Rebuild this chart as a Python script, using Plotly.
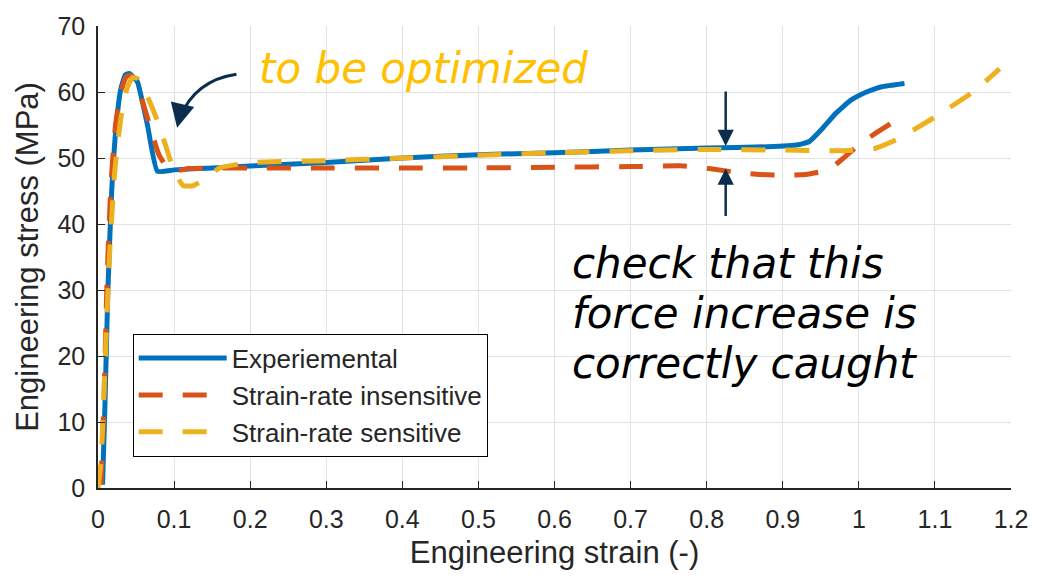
import plotly.graph_objects as go

# Engineering strain / stress curves
exp_strain = [0.006, 0.009, 0.013, 0.018, 0.024, 0.030, 0.036, 0.041, 0.046, 0.052, 0.065, 0.078,
              0.10, 0.15, 0.20, 0.30, 0.40, 0.50, 0.60, 0.70, 0.80, 0.88, 0.92, 0.935,
              0.95, 0.97, 0.99, 1.01, 1.03, 1.06]
exp_stress = [0.5, 12, 30, 45, 55, 60.5, 62.6, 62.8, 62.3, 61.5, 55, 48,
              48.2, 48.5, 48.8, 49.3, 50.0, 50.5, 50.8, 51.2, 51.5, 51.7, 52.0, 52.5,
              54.2, 56.8, 58.8, 60.0, 60.8, 61.3]

ins_strain = [0.004, 0.008, 0.012, 0.017, 0.023, 0.030, 0.037, 0.043, 0.050, 0.060, 0.080, 0.095,
              0.12, 0.20, 0.30, 0.40, 0.50, 0.60, 0.70, 0.77, 0.81, 0.84, 0.87, 0.90,
              0.93, 0.96, 0.98, 1.00, 1.02, 1.05]
ins_stress = [0.5, 14, 32, 46, 55, 60, 62.3, 62.5, 61.5, 58, 50.5, 48.0,
              48.4, 48.5, 48.5, 48.5, 48.5, 48.6, 48.7, 48.8, 48.3, 47.8, 47.5, 47.4,
              47.5, 48.2, 50.0, 52.0, 53.6, 55.8]

sen_strain = [0.0, 0.004, 0.009, 0.015, 0.022, 0.030, 0.038, 0.045, 0.052, 0.060, 0.070, 0.080,
              0.090, 0.100, 0.112, 0.125, 0.140, 0.160, 0.20, 0.30, 0.40, 0.50, 0.60, 0.70,
              0.80, 0.90, 0.98, 1.02, 1.05, 1.10, 1.15, 1.185]
sen_stress = [0.0, 4, 18, 35, 48, 56, 60.5, 62.2, 62.0, 60.5, 58.0, 55.0,
              51.5, 48.0, 45.8, 45.8, 46.8, 48.5, 49.3, 49.6, 50.0, 50.4, 50.8, 51.1,
              51.3, 51.2, 51.1, 51.4, 52.8, 56.2, 60.0, 63.5]

series_names = ["Experiemental", "Strain-rate insensitive", "Strain-rate sensitive"]

x_ticks = [0, 0.1, 0.2, 0.3, 0.4, 0.5, 0.6, 0.7, 0.8, 0.9, 1, 1.1, 1.2]
x_tick_text = ["0", "0.1", "0.2", "0.3", "0.4", "0.5", "0.6", "0.7", "0.8", "0.9", "1", "1.1", "1.2"]
y_ticks = [0, 10, 20, 30, 40, 50, 60, 70]

note_lines = ["check that this", "force increase is", "correctly caught"]
note_line_y = [34.0, 26.5, 18.9]

BLUE = "#0072BD"
ORANGE = "#D95319"
YELLOW = "#EDB120"
NAVY = "#0B2E4F"
GOLD = "#FFC000"
TXT = "#262626"
AX_FONT = "Liberation Sans, Arial, sans-serif"
NOTE_FONT = "DejaVu Sans, sans-serif"
DASH = "24px,20px"

fig = go.Figure()
fig.add_trace(go.Scatter(x=exp_strain, y=exp_stress, mode="lines", name=series_names[0],
                         line=dict(color=BLUE, width=5, shape="spline", smoothing=0.4)))
fig.add_trace(go.Scatter(x=ins_strain, y=ins_stress, mode="lines", name=series_names[1],
                         line=dict(color=ORANGE, width=5, dash=DASH, shape="spline", smoothing=0.4)))
fig.add_trace(go.Scatter(x=sen_strain, y=sen_stress, mode="lines", name=series_names[2],
                         line=dict(color=YELLOW, width=5, dash=DASH, shape="spline", smoothing=0.4)))

# curved pointer towards the first peak
fig.add_shape(type="path", xref="x", yref="y",
              path="M 0.182 62.7 Q 0.128 61.8 0.108 56.2",
              line=dict(color=NAVY, width=3))
fig.add_annotation(x=0.104, y=54.6, ax=0.108, ay=56.6, xref="x", yref="y", axref="x", ayref="y",
                   text="", showarrow=True, arrowhead=2, arrowsize=1.6, arrowwidth=3, arrowcolor=NAVY)

# pair of arrows pointing at the gap around strain 0.82
fig.add_annotation(x=0.825, y=51.8, ax=0.825, ay=60.3, xref="x", yref="y", axref="x", ayref="y",
                   text="", showarrow=True, arrowhead=2, arrowsize=1.3, arrowwidth=2.5, arrowcolor=NAVY)
fig.add_annotation(x=0.825, y=48.4, ax=0.825, ay=41.0, xref="x", yref="y", axref="x", ayref="y",
                   text="", showarrow=True, arrowhead=2, arrowsize=1.3, arrowwidth=2.5, arrowcolor=NAVY)

fig.add_annotation(x=0.2096, y=63.6, xref="x", yref="y", xanchor="left", yanchor="middle",
                   text="<i>to be optimized</i>", showarrow=False,
                   font=dict(family=NOTE_FONT, size=42, color=GOLD))
for line_text, line_y in zip(note_lines, note_line_y):
    fig.add_annotation(x=0.621, y=line_y, xref="x", yref="y", xanchor="left", yanchor="middle",
                       text="<i>" + line_text + "</i>", showarrow=False,
                       font=dict(family=NOTE_FONT, size=42, color="#000000"))

fig.update_layout(
    width=1040, height=580,
    margin=dict(l=98, r=26, t=18, b=92),
    paper_bgcolor="white", plot_bgcolor="white",
    font=dict(family=AX_FONT, color=TXT),
    showlegend=True,
    legend=dict(x=0.038, y=0.334, xanchor="left", yanchor="top",
                bgcolor="white", bordercolor="#000000", borderwidth=1,
                font=dict(family=AX_FONT, size=26, color=TXT),
                itemwidth=88, tracegroupgap=0),
)
fig.update_xaxes(range=[0, 1.2], tickvals=x_ticks, ticktext=x_tick_text,
                 showgrid=True, gridcolor="#E2E2E2", gridwidth=1,
                 showline=True, linecolor="#262626", linewidth=1.5,
                 ticks="inside", ticklen=7, tickcolor="#262626", ticklabelstandoff=8,
                 tickfont=dict(size=25, color=TXT), zeroline=False,
                 title=dict(text="Engineering strain (-)", font=dict(size=31, color=TXT), standoff=10))
fig.update_yaxes(range=[0, 70], tickvals=y_ticks,
                 showgrid=True, gridcolor="#E2E2E2", gridwidth=1,
                 showline=True, linecolor="#262626", linewidth=1.5,
                 ticks="inside", ticklen=7, tickcolor="#262626", ticklabelstandoff=6,
                 tickfont=dict(size=25, color=TXT), zeroline=False,
                 title=dict(text="Engineering stress (MPa)", font=dict(size=31, color=TXT), standoff=10))

fig.write_html("out.html")
